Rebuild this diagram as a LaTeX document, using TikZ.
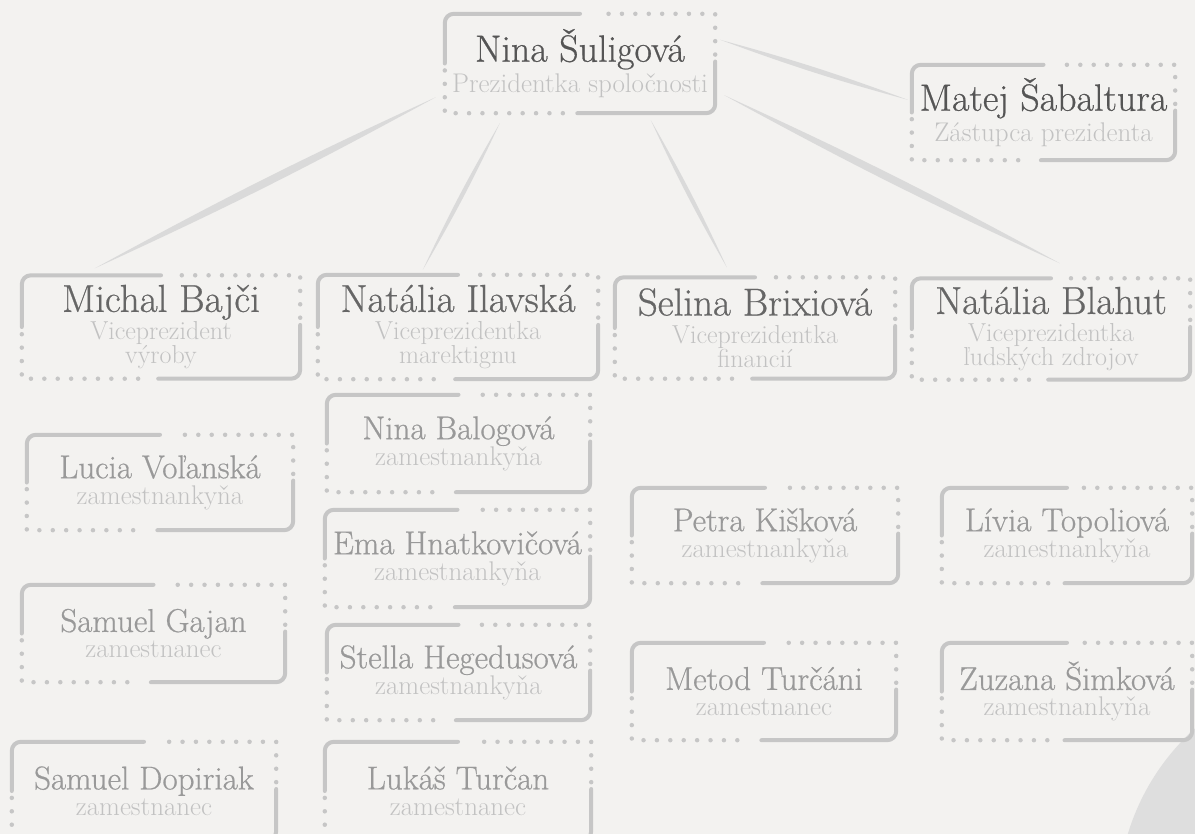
\documentclass[tikz,border=0pt]{standalone}
\usepackage{fontspec}
\usetikzlibrary{calc}

\newfontfamily\namefont{Latin Modern Roman}[FakeBold=0.6]
\lineskiplimit=-100pt

\definecolor{paper}{HTML}{F3F2F0}
\definecolor{framegray}{HTML}{C6C6C6}
\definecolor{brushgray}{HTML}{DADADA}
\definecolor{blobgray}{HTML}{DEDEDE}
\definecolor{bossgray}{HTML}{555555}
\definecolor{vpgray}{HTML}{666666}
\definecolor{staffgray}{HTML}{999999}
\definecolor{rolegray}{HTML}{C2C2C2}

\newcommand\bossname[1]{{\namefont\fontsize{38}{38}\selectfont\color{bossgray}#1}}
\newcommand\vpname[1]{{\namefont\fontsize{39}{39}\selectfont\color{vpgray}#1}}
\newcommand\staffname[1]{{\namefont\fontsize{33}{33}\selectfont\color{staffgray}#1}}

% frame of one card: two solid corners, the rest dotted
\newcommand\cardframe[1]{%
  \draw[frame solid] ($(#1.north west)!0.50!(#1.north east)$) -- (#1.north west)
        -- ($(#1.north west)!0.50!(#1.south west)$);
  \draw[frame solid] ($(#1.south east)!0.51!(#1.south west)$) -- (#1.south east)
        -- ($(#1.south east)!0.52!(#1.north east)$);
  \draw[frame dots] ($(#1.north west)!0.57!(#1.south west)$) -- (#1.south west)
        -- ($(#1.south west)!0.44!(#1.south east)$);
  \draw[frame dots] ($(#1.south east)!0.59!(#1.north east)$) -- (#1.north east)
        -- ($(#1.north east)!0.44!(#1.north west)$);
}

\begin{document}
\begin{tikzpicture} [
        x=1pt, y=-1pt,
        card/.style={inner sep=0pt, align=center, text=rolegray},
        top card/.style={card, font=\fontsize{27}{24}\selectfont},
        vp card/.style={card, font=\fontsize{26}{24}\selectfont},
        staff card/.style={card, font=\fontsize{27}{20}\selectfont},
        frame solid/.style={draw=framegray, line width=4pt, rounded corners=9pt, line cap=round},
        frame dots/.style={draw=framegray, line width=4.5pt, line cap=round, dash pattern=on 0pt off 13.4pt},
        brush/.style={fill=brushgray},
    ]
    \useasboundingbox (0,0) rectangle (1195,834);
    \clip (0,0) rectangle (1195,834);
    \fill[paper] (0,0) rectangle (1195,834);
    \fill[blobgray] (1350,901) circle (232);

    % First the president and her deputy
    \foreach \name/\pos/\w/\h/\who/\what in {
            nina/{(580,63.5)}/270/99/{Nina Šuligová}/{Prezidentka spoločnosti},
            matej/{(1043.5,112.5)}/263/95/{Matej Šabaltura}/{Zástupca prezidenta}}
        \node[top card, minimum width=\w, minimum height=\h] (\name) at \pos
            {\bossname{\who}\\[7pt]\what};

    % the vice presidents
    \foreach \name/\pos/\w/\h/\who/\what in {
            michal/{(161,327)}/278/103/{Michal Bajči}/{Viceprezident\\výroby},
            ilavska/{(458,327)}/280/104/{Natália Ilavská}/{Viceprezidentka\\marektignu},
            selina/{(755,328)}/280/101/{Selina Brixiová}/{Viceprezidentka\\financií},
            blahut/{(1051,329)}/278/101/{Natália Blahut}/{Viceprezidentka\\ľudských zdrojov}}
        \node[vp card, minimum width=\w, minimum height=\h] (\name) at \pos
            {\vpname{\who}\\[4pt]\what};

    % and the staff under them
    \foreach \name/\pos/\w/\h/\who/\what in {
            lucia/{(160,482.5)}/266/95/{Lucia Voľanská}/zamestnankyňa,
            gajan/{(153.5,633.5)}/263/97/{Samuel Gajan}/zamestnanec,
            dopiriak/{(144,791)}/264/98/{Samuel Dopiriak}/zamestnanec,
            balogova/{(458.5,443.5)}/263/97/{Nina Balogová}/zamestnankyňa,
            ema/{(457.5,558.5)}/265/97/{Ema Hnatkovičová}/zamestnankyňa,
            stella/{(458.5,672.5)}/263/95/{Stella Hegedusová}/zamestnankyňa,
            lukas/{(458,791)}/266/98/{Lukáš Turčan}/zamestnanec,
            petra/{(765,535.5)}/266/95/{Petra Kišková}/zamestnankyňa,
            metod/{(764,691.5)}/264/97/{Metod Turčáni}/zamestnanec,
            livia/{(1067,535.5)}/250/95/{Lívia Topoliová}/zamestnankyňa,
            zuzana/{(1067,691.5)}/250/97/{Zuzana Šimková}/zamestnankyňa}
        \node[staff card, minimum width=\w, minimum height=\h] (\name) at \pos
            {\staffname{\who}\\[6pt]\what};

    % frames round every card
    \foreach \name in {nina, matej, michal, ilavska, selina, blahut, lucia, gajan,
            dopiriak, balogova, ema, stella, lukas, petra, metod, livia, zuzana}
        {\cardframe{\name}}

    % brush strokes from the president
    \coordinate (nina-mi) at ($(nina.south west)+(-9,-16)$);
    \coordinate (mi-top) at ($(michal.north west)+(73,-7)$);
    \coordinate (nina-il) at ($(nina.south west)+(55,10)$);
    \coordinate (il-top) at ($(ilavska.north west)+(105,-5)$);
    \coordinate (nina-se) at ($(nina.south west)+(206,7)$);
    \coordinate (se-top) at ($(selina.north west)+(112,-10)$);
    \coordinate (nina-bl) at ($(nina.south east)+(9,-18)$);
    \coordinate (bl-top) at ($(blahut.north west)+(148,-15)$);
    \coordinate (nina-ma) at ($(nina.north east)+(5,26)$);
    \coordinate (ma-left) at ($(matej.north west)+(-4,35)$);
    \foreach \a/\b/\bend in {
            nina-mi/mi-top/2, nina-il/il-top/2.5, nina-se/se-top/2.5,
            nina-bl/bl-top/2, nina-ma/ma-left/2.5}
        \path[brush] (\a) to[bend left=\bend] (\b) to[bend left=\bend] (\a);
\end{tikzpicture}
\end{document}
